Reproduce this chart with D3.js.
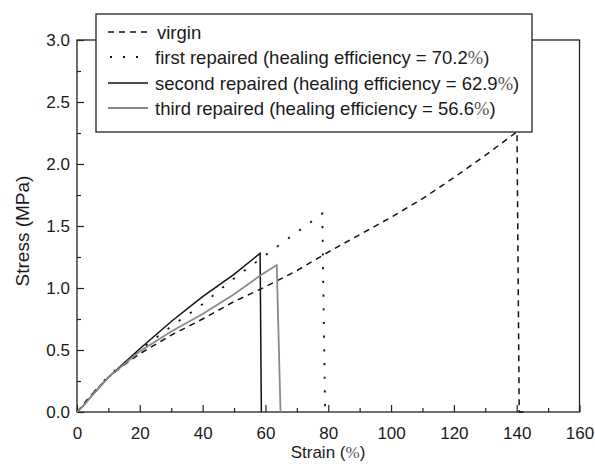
<!DOCTYPE html>
<html>
<head>
<meta charset="utf-8">
<script src="https://cdn.jsdelivr.net/npm/d3@7"></script>
<style>
  html, body { margin: 0; padding: 0; background: #fff; }
  svg { display: block; }
  text { font-family: "Liberation Sans", Arial, sans-serif; fill: #1a1a1a; }
</style>
</head>
<body>
<svg id="chart" width="595" height="464"></svg>
<script>
// Stress–strain curves: strain (%) and stress (MPa)
const virginStrain = [0, 2, 5, 10, 15, 20, 30, 40, 50, 60, 70, 80, 90, 100, 110, 120, 130, 140.1, 140.8, 143];
const virginStress = [0, 0.06, 0.15, 0.28, 0.38, 0.47, 0.62, 0.75, 0.89, 1.01, 1.14, 1.29, 1.43, 1.57, 1.72, 1.89, 2.07, 2.26, 0, 0];

const firstStrain = [0, 2, 5, 10, 20, 30, 40, 48.6, 61.3, 70, 78.1, 79.0];
const firstStress = [0, 0.06, 0.15, 0.29, 0.50, 0.69, 0.87, 1.05, 1.29, 1.45, 1.60, 0];

const secondStrain = [0, 2, 5, 10, 20, 30, 40, 50, 58.3, 58.7];
const secondStress = [0, 0.05, 0.14, 0.28, 0.51, 0.73, 0.93, 1.11, 1.28, 0];

const thirdStrain = [0, 2, 5, 10, 20, 30, 40, 50, 58.6, 63.6, 64.8];
const thirdStress = [0, 0.05, 0.14, 0.28, 0.49, 0.65, 0.79, 0.95, 1.105, 1.185, 0];

const seriesNames = [
  "virgin",
  "first repaired (healing efficiency = 70.2",
  "second repaired (healing efficiency = 62.9",
  "third repaired (healing efficiency = 56.6"
];

const xTicks = [0, 20, 40, 60, 80, 100, 120, 140, 160];
const yTicks = [0, 0.5, 1.0, 1.5, 2.0, 2.5, 3.0];

const svg = d3.select("#chart");
const x = d3.scaleLinear().domain([0, 160]).range([77, 579.5]);
const y = d3.scaleLinear().domain([0, 3]).range([412, 40]);

const styles = [
  { stroke: "#111", dash: "6,5", width: 1.5 },
  { stroke: "#111", dash: "2.2,11.5", width: 1.8 },
  { stroke: "#111", dash: null, width: 1.5 },
  { stroke: "#8a8a8a", dash: null, width: 1.8 }
];

const series = [
  d3.zip(virginStrain, virginStress),
  d3.zip(firstStrain, firstStress),
  d3.zip(secondStrain, secondStress),
  d3.zip(thirdStrain, thirdStress)
];

// plot frame
svg.append("rect")
  .attr("x", x(0)).attr("y", y(3))
  .attr("width", x(160) - x(0)).attr("height", y(0) - y(3))
  .attr("fill", "none").attr("stroke", "#222").attr("stroke-width", 1.3);

// axes with inward ticks
const xAxis = d3.axisBottom(x).tickValues(xTicks).tickSizeInner(-7).tickSizeOuter(0).tickPadding(15)
  .tickFormat(d3.format("d"));
svg.append("g").attr("transform", `translate(0,${y(0)})`).call(xAxis);
const yAxis = d3.axisLeft(y).tickValues(yTicks).tickSizeInner(-7).tickSizeOuter(0).tickPadding(7)
  .tickFormat(d3.format(".1f"));
svg.append("g").attr("transform", `translate(${x(0)},0)`).call(yAxis);

// minor ticks
const xMinor = d3.axisBottom(x).tickValues(d3.range(10, 160, 20)).tickSize(-4).tickFormat("");
svg.append("g").attr("transform", `translate(0,${y(0)})`).call(xMinor);
const yMinor = d3.axisLeft(y).tickValues(d3.range(0.25, 3, 0.5)).tickSize(-4).tickFormat("");
svg.append("g").attr("transform", `translate(${x(0)},0)`).call(yMinor);

svg.selectAll(".domain").remove();
svg.selectAll(".tick line").attr("stroke", "#222").attr("stroke-width", 1.2);
svg.selectAll(".tick text").attr("font-size", 17).style("fill", "#1a1a1a");

// axis titles
const strainLabel = svg.append("text").attr("x", 328).attr("y", 458)
  .attr("text-anchor", "middle").attr("font-size", 17);
strainLabel.append("tspan").text("Strain (");
strainLabel.append("tspan").text("%").style("font-family", "'Liberation Serif', serif").style("fill", "#555");
strainLabel.append("tspan").text(")");

svg.append("text")
  .attr("transform", "translate(29,231) rotate(-90)")
  .attr("text-anchor", "middle").attr("font-size", 19)
  .text("Stress (MPa)");

// curves
const line = d3.line().x(d => x(d[0])).y(d => y(d[1]));
series.forEach((pts, i) => {
  svg.append("path")
    .datum(pts)
    .attr("d", line)
    .attr("fill", "none")
    .attr("stroke", styles[i].stroke)
    .attr("stroke-width", styles[i].width)
    .attr("stroke-dasharray", styles[i].dash)
    .attr("stroke-linejoin", "miter");
});

// legend
const legend = svg.append("g");
legend.append("rect")
  .attr("x", 96).attr("y", 14).attr("width", 436).attr("height", 118)
  .attr("fill", "#fff").attr("stroke", "#222").attr("stroke-width", 1.3);

const rowY = [32, 57, 83, 108];
const sampleStart = [108, 110, 108, 108];
const textX = [157, 155, 155, 155];
seriesNames.forEach((name, i) => {
  legend.append("line")
    .attr("x1", sampleStart[i]).attr("x2", 148)
    .attr("y1", rowY[i]).attr("y2", rowY[i])
    .attr("stroke", styles[i].stroke)
    .attr("stroke-width", styles[i].width)
    .attr("stroke-dasharray", i === 1 ? "2,11" : styles[i].dash);
  const t = legend.append("text").attr("x", textX[i]).attr("y", rowY[i] + 6.5).attr("font-size", 18.5);
  t.append("tspan").text(name);
  if (i > 0) {
    t.append("tspan").text("%").style("font-family", "'Liberation Serif', serif").style("fill", "#555");
    t.append("tspan").text(")");
  }
});
</script>
</body>
</html>
